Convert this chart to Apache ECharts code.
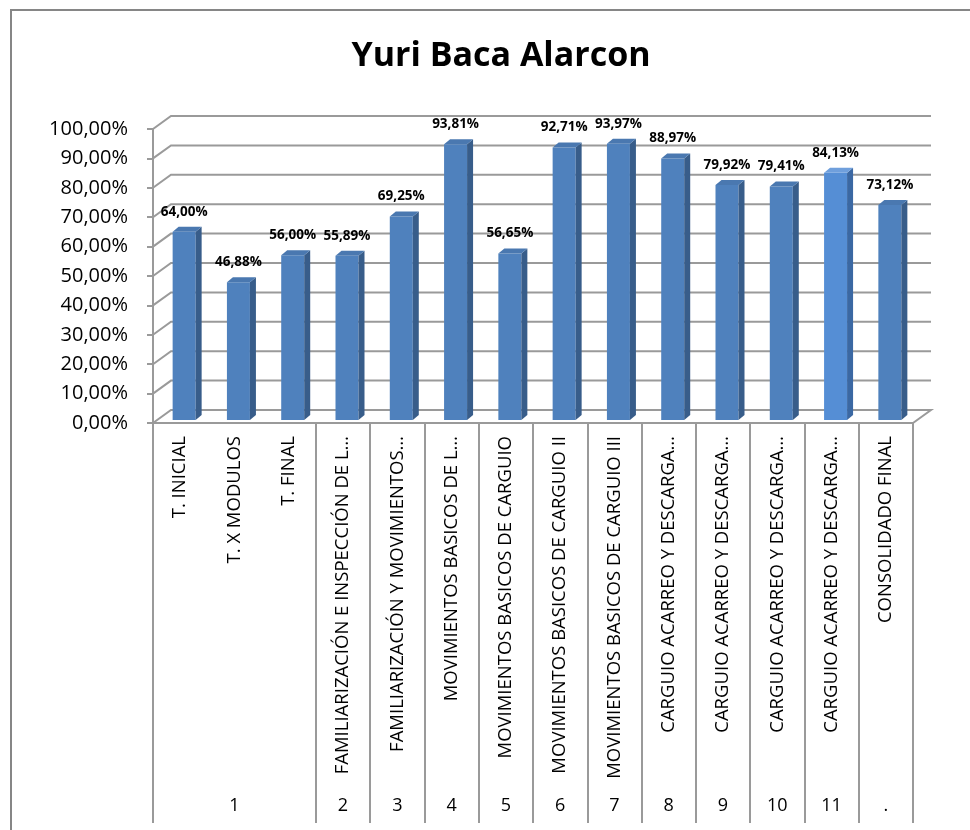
<!DOCTYPE html>
<html>
<head>
<meta charset="utf-8">
<script src="https://cdn.jsdelivr.net/npm/echarts@6/dist/echarts.min.js"></script>
<style>
  html, body { margin: 0; padding: 0; background: #fff; }
  #chart { width: 970px; height: 830px; }
</style>
</head>
<body>
<div id="chart"></div>
<script>
const chartTitle = 'Yuri Baca Alarcon'
const categories = [
  'T. INICIAL',
  'T. X MODULOS',
  'T. FINAL',
  'FAMILIARIZACIÓN E INSPECCIÓN DE L…',
  'FAMILIARIZACIÓN Y MOVIMIENTOS…',
  'MOVIMIENTOS BASICOS DE L…',
  'MOVIMIENTOS BASICOS DE CARGUIO',
  'MOVIMIENTOS BASICOS DE CARGUIO II',
  'MOVIMIENTOS BASICOS DE CARGUIO III',
  'CARGUIO ACARREO Y DESCARGA…',
  'CARGUIO ACARREO Y DESCARGA…',
  'CARGUIO ACARREO Y DESCARGA…',
  'CARGUIO ACARREO Y DESCARGA…',
  'CONSOLIDADO FINAL'
]
const values = [0.64, 0.4688, 0.56, 0.5589, 0.6925, 0.9381, 0.5665, 0.9271, 0.9397, 0.8897, 0.7992, 0.7941, 0.8413, 0.7312]
const groupNames = ['1', '2', '3', '4', '5', '6', '7', '8', '9', '10', '11', '.']
const groupSizes = [3, 1, 1, 1, 1, 1, 1, 1, 1, 1, 1, 1]
const yTicks = [0, 0.1, 0.2, 0.3, 0.4, 0.5, 0.6, 0.7, 0.8, 0.9, 1]

// group boundaries and centers for the second category level
const groupBounds = [0]
groupSizes.forEach(s => groupBounds.push(groupBounds[groupBounds.length - 1] + s))
const groupCenters = groupSizes.map((s, i) => groupBounds[i] + s / 2)

const pct = v => (v * 100).toFixed(2).replace('.', ',') + '%'

const FONT = 'Open Sans'
const GRAY = '#9a9a9a'
const DEPTH_X = 18
const DEPTH_Y = 13

const chart = echarts.init(document.getElementById('chart'))
chart.setOption({
  backgroundColor: '#fff',
  animation: false,
  title: {
    text: chartTitle,
    left: 496,
    top: 34,
    textAlign: 'center',
    textStyle: { fontFamily: FONT, fontWeight: 'bold', fontSize: 34, color: '#000' }
  },
  graphic: [
    {
      type: 'rect',
      shape: { x: 11, y: 10, width: 1000, height: 1000 },
      style: { fill: 'none', stroke: '#868686', lineWidth: 2 },
      silent: true
    }
  ],
  grid: {
    left: 153,
    right: 57,
    top: 129,
    bottom: 407
  },
  xAxis: [
    {
      type: 'category',
      data: categories,
      position: 'bottom',
      axisLine: { lineStyle: { color: GRAY, width: 2 } },
      axisTick: { interval: 0, length: 358, lineStyle: { color: GRAY, width: 2 } },
      axisLabel: {
        interval: 0,
        rotate: 90,
        margin: 13,
        fontFamily: FONT,
        fontSize: 18.5,
        color: '#000'
      }
    },
    {
      type: 'value',
      min: 0,
      max: categories.length,
      position: 'bottom',
      axisLine: { show: false },
      splitLine: { show: false },
      axisTick: {
        show: true,
        customValues: groupBounds,
        length: 400,
        lineStyle: { color: GRAY, width: 2 }
      },
      axisLabel: {
        customValues: groupCenters,
        margin: 374,
        fontFamily: FONT,
        fontSize: 18,
        color: '#000',
        formatter: val => {
          const i = groupCenters.findIndex(c => Math.abs(c - val) < 1e-6)
          return i >= 0 ? groupNames[i] : ''
        }
      }
    }
  ],
  yAxis: {
    type: 'value',
    min: 0,
    max: 1,
    interval: 0.1,
    axisLine: { show: true, lineStyle: { color: GRAY, width: 2 } },
    axisTick: { show: true, length: 6, lineStyle: { color: GRAY, width: 2 } },
    splitLine: { show: false },
    axisLabel: {
      margin: 25,
      fontFamily: FONT,
      fontSize: 20,
      color: '#000',
      formatter: pct
    }
  },
  series: [
    {
      // back wall gridlines with the 3D offset
      type: 'custom',
      z: 1,
      silent: true,
      data: yTicks.map(v => [0, v]),
      renderItem (params, api) {
        const cs = params.coordSys
        const y = api.coord([0, api.value(1)])[1]
        const x0 = cs.x
        const x1 = cs.x + cs.width
        const pts = [[x0, y], [x0 + DEPTH_X, y - DEPTH_Y], [x1 + DEPTH_X, y - DEPTH_Y]]
        if (api.value(1) === 0) pts.push([x1, y])
        return {
          type: 'polyline',
          shape: { points: pts },
          style: { stroke: GRAY, lineWidth: 2, fill: 'none' }
        }
      }
    },
    {
      type: 'custom',
      z: 5,
      data: values.map((v, i) => [i, v]),
      encode: { x: 0, y: 1 },
      renderItem (params, api) {
        const i = api.value(0)
        const v = api.value(1)
        const top = api.coord([i, v])
        const base = api.coord([i, 0])
        const w = 23
        const dx = 6
        const dy = 5
        const xl = top[0] + 4 - w / 2
        const xr = xl + w
        const yt = top[1] - 3
        const yb = base[1] - 3
        const light = i === 12
        const front = light ? '#558ed5' : '#4f81bd'
        const side = light ? '#3b68a3' : '#385d8a'
        const cap = light ? '#6f9fdc' : '#4a78b0'
        return {
          type: 'group',
          children: [
            {
              type: 'rect',
              shape: { x: xl, y: yt, width: w, height: yb - yt },
              style: { fill: front }
            },
            {
              type: 'polygon',
              shape: { points: [[xr, yt], [xr + dx, yt - dy], [xr + dx, yb - dy], [xr, yb]] },
              style: { fill: side }
            },
            {
              type: 'polygon',
              shape: { points: [[xl, yt], [xl + dx, yt - dy], [xr + dx, yt - dy], [xr, yt]] },
              style: { fill: cap }
            },
            {
              type: 'text',
              style: {
                text: pct(v),
                x: xl + w / 2,
                y: yt - 20,
                align: 'center',
                verticalAlign: 'middle',
                fontFamily: FONT,
                fontWeight: 'bold',
                fontSize: 13.5,
                fill: '#000'
              }
            }
          ]
        }
      }
    }
  ]
})
</script>
</body>
</html>
